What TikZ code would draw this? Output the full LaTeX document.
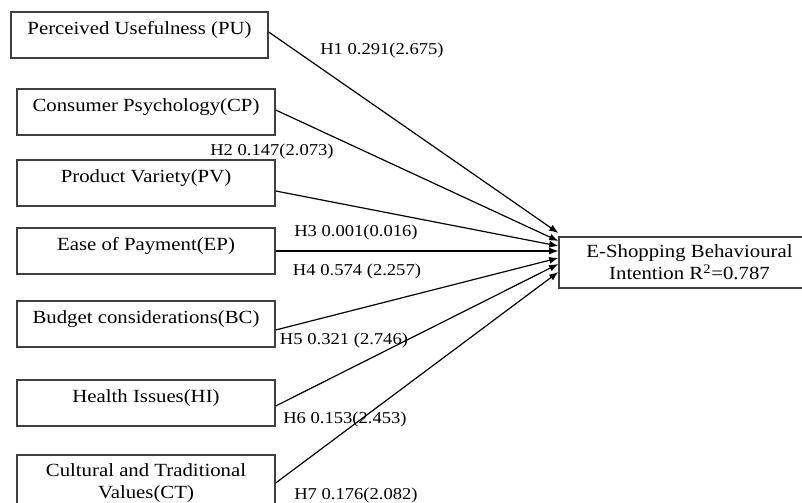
\documentclass[tikz,border=0pt]{standalone}
\usepackage{fontspec}
\setmainfont{Liberation Serif}[FakeStretch=1.12]
\usetikzlibrary{arrows.meta,calc}

\begin{document}
\begin{tikzpicture}[x=0.025cm, y=-0.025cm, >={Latex[length=6.5pt,width=5pt]},
  font=\fontsize{13.2}{15.6}\selectfont,
  box/.style={draw=black!75, line width=0.9pt, minimum width=6.45cm, inner sep=0pt},
  factor/.style={box, minimum height=1.15cm, text height=9pt, text depth=9pt},
  hyp/.style={font=\fontsize{11.8}{14}\selectfont, inner sep=0pt}]
  \useasboundingbox (0,0) rectangle (802,503);

  % factors on the left
  \node[factor, minimum width=6.425cm] (pu) at (139.5,35) {Perceived Usefulness (PU)};
  \foreach \nm/\y/\txt in {cp/112/Consumer Psychology(CP), pv/183/Product Variety(PV),
    ep/251/Ease of Payment(EP), bc/324/Budget considerations(BC), hi/403/Health Issues(HI)}
    \node[factor] (\nm) at (146,\y) {\txt};
  \node[box, align=center, minimum height=1.425cm] (ct) at (146,483.5)
    {Cultural and Traditional\\Values(CT)};

  % outcome
  \node[box, align=center, minimum width=6.525cm, minimum height=1.275cm] (esbi)
    at (689.5,262.5) {E-Shopping Behavioural\\Intention R\textsuperscript{2}=0.787};

  \foreach \src/\a/\b in {pu/-3/-29.5, cp/-2/-21.5, pv/8/-16.5, ep/0/-11.5,
    bc/6/-4.5, hi/3/1.5, ct/-0.5/9.5}
    \draw[->, line width=0.85pt] ($(\src.east)+(0,\a)$) -- ($(esbi.west)+(0,\b)$);

  % path coefficients
  \foreach \i/\x/\y/\txt in {1/382/51/0.291(2.675), 2/272/152/0.147(2.073),
    3/356/233/0.001(0.016), 4/357/272/0.574 (2.257), 5/344/341/0.321 (2.746),
    6/345/420/0.153(2.453), 7/356/496/0.176(2.082)}
    \node[hyp] (h\i) at (\x,\y) {H\i{} \txt};
\end{tikzpicture}
\end{document}
